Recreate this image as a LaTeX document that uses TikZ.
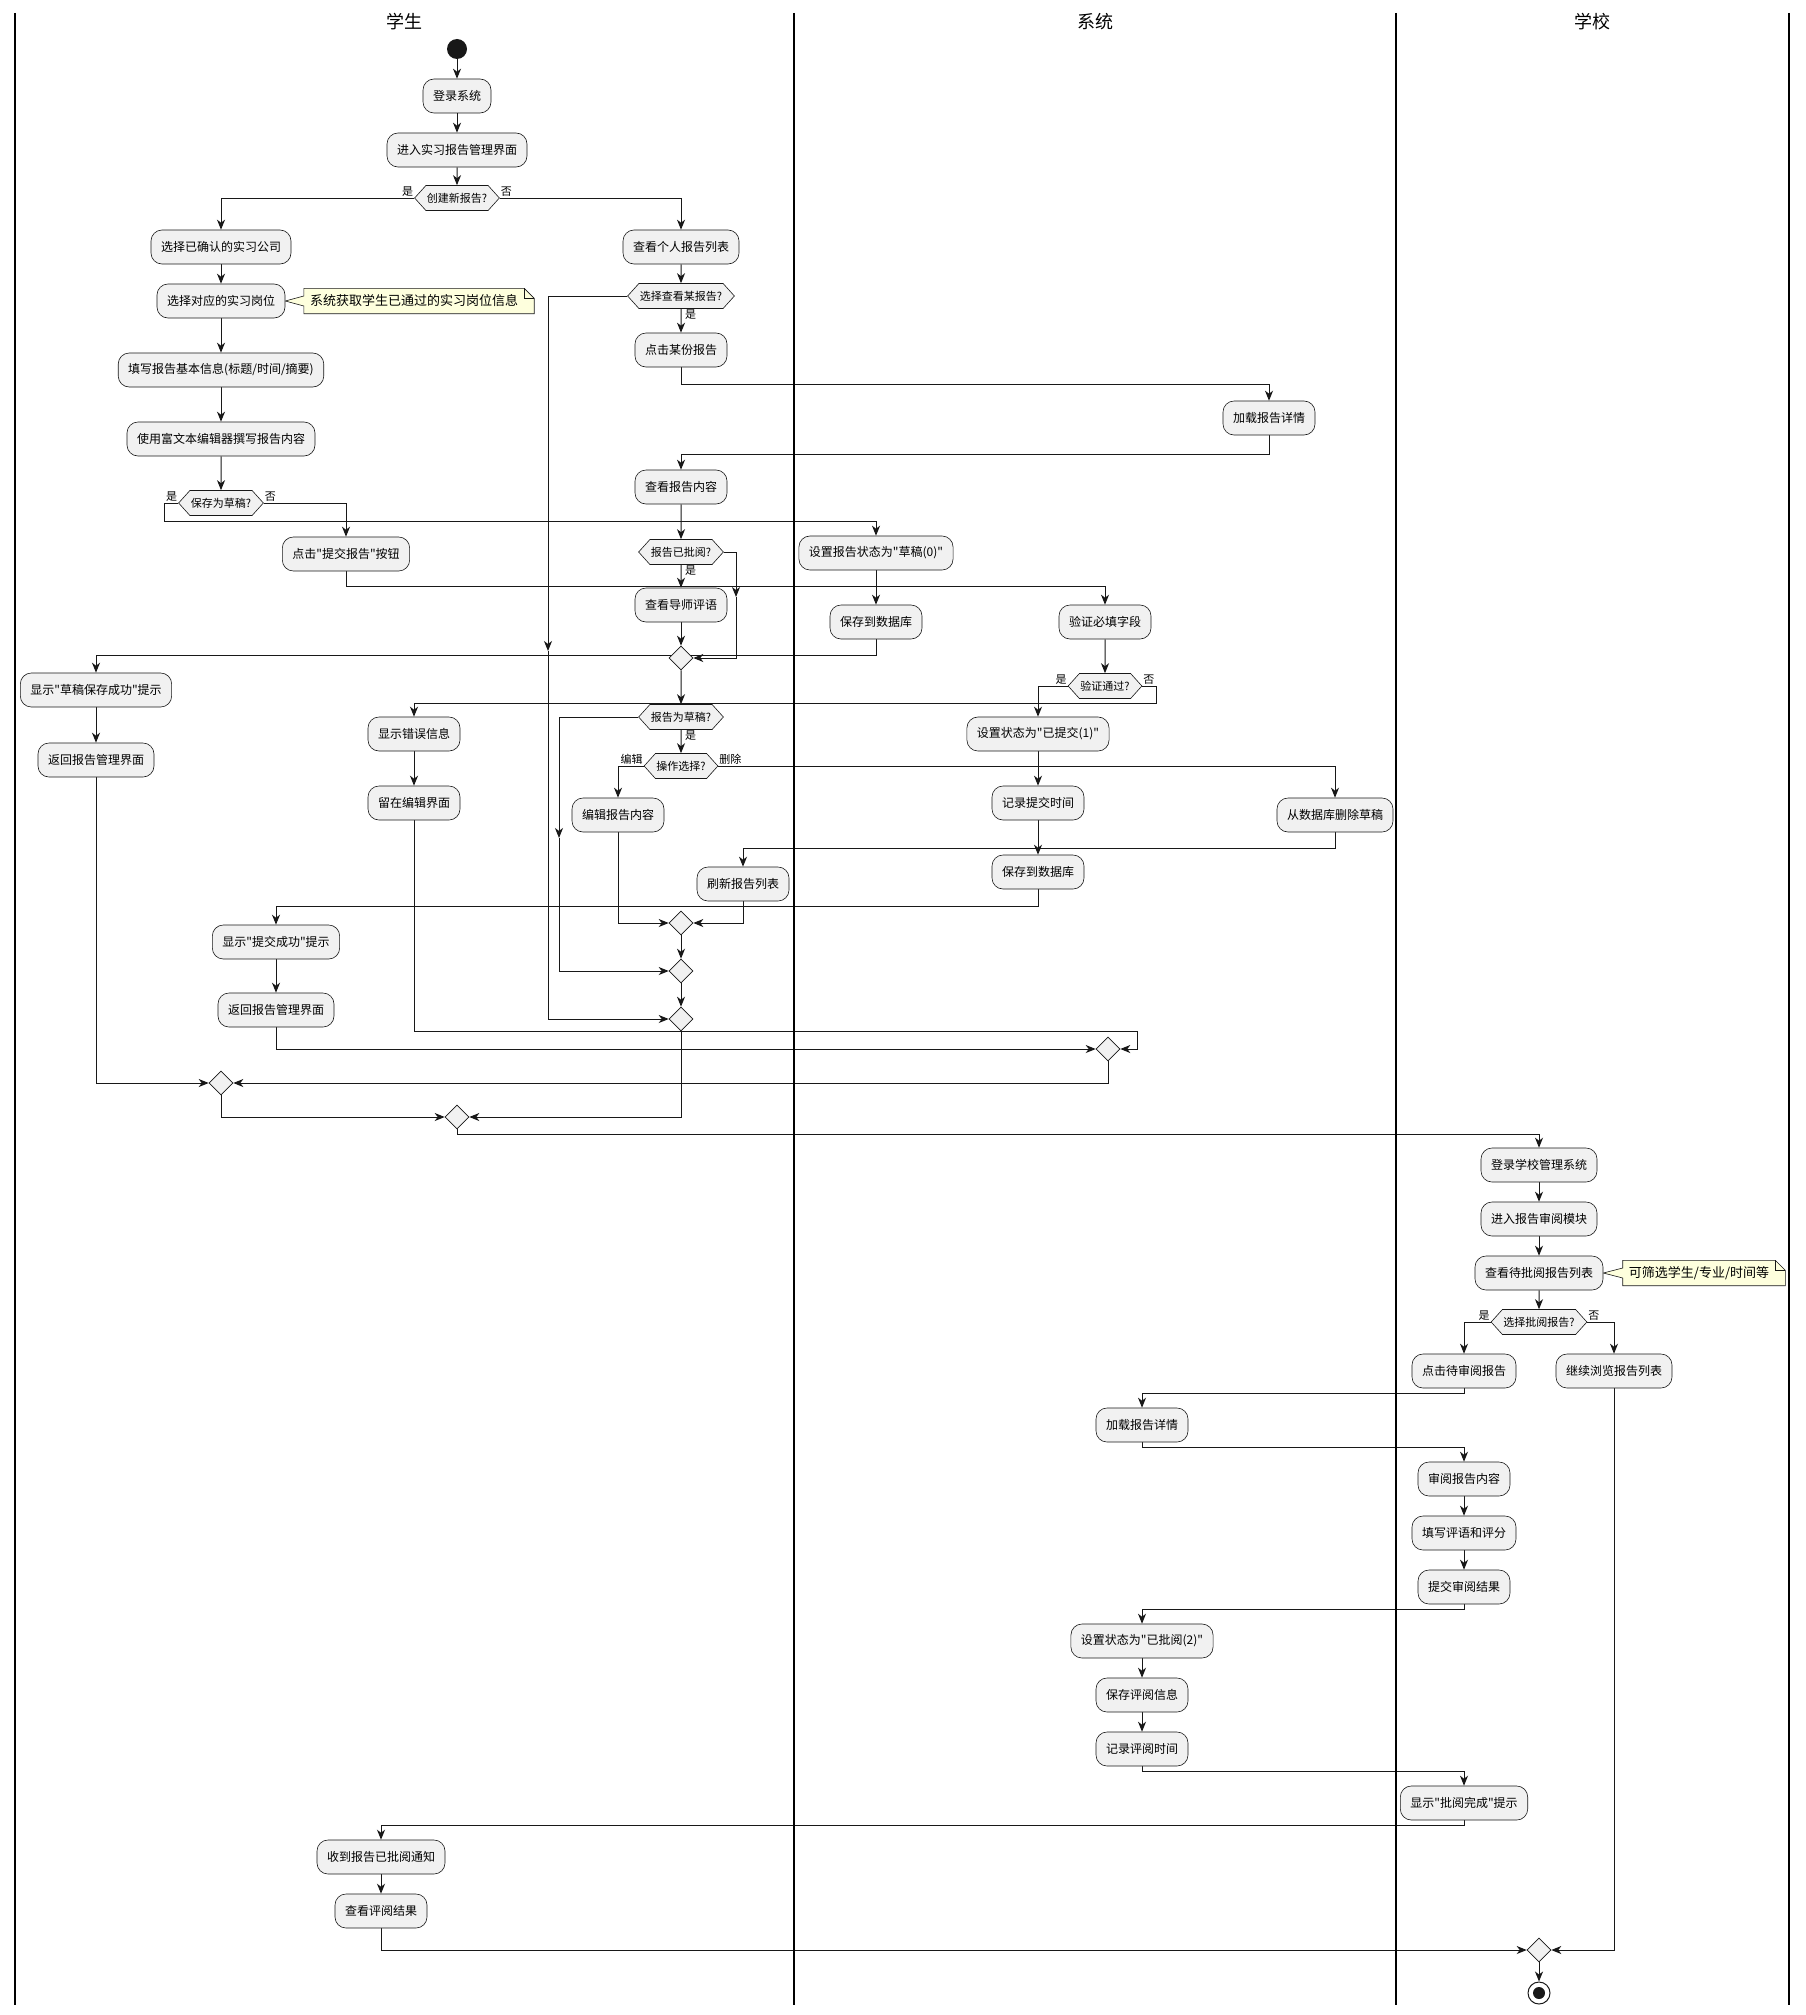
\documentclass[tikz,border=0pt]{standalone}
\usepackage{fontspec}
\setmainfont{Noto Sans CJK SC}[Ligatures=TeXOff]
\usepackage{tikz}
\usetikzlibrary{shapes.geometric,shapes.symbols,arrows.meta}
\usetikzlibrary{calc,backgrounds}
\usepackage{xcolor}
\definecolor{actfill}{HTML}{F1F1F1}
\definecolor{actline}{HTML}{181818}
\definecolor{notefill}{HTML}{FEFFDD}
\tikzstyle{swim}=[
  >={Stealth[length=10pt,width=8pt,inset=3pt]},x=1pt,y=-1pt,font=\fontsize{12}{14}\selectfont
]
\tikzstyle{act}=[
  draw=actline,fill=actfill,rounded corners=11pt,line width=0.6pt,minimum height=34pt,inner xsep=10pt,inner ysep=0pt
]
\tikzstyle{choice}=[
  draw=actline,fill=actfill,signal,signal to=west and east,signal pointer angle=96,line width=0.6pt,
  minimum height=25pt,inner xsep=1pt,inner ysep=0pt,font=\fontsize{11}{13}\selectfont
]
\tikzstyle{merge}=[
  draw=actline,fill=actfill,diamond,minimum width=24pt,minimum height=24pt,inner sep=0pt,line width=0.6pt
]
\tikzstyle{startdot}=[
  circle,fill=actline,minimum size=20pt,inner sep=0pt
]
\tikzstyle{enddot}=[
  circle,draw=actline,line width=1pt,fill=white,minimum size=22pt,inner sep=0pt
]
\tikzstyle{flow}=[
  ->,draw=actline,line width=1pt
]
\tikzstyle{lbl}=[
  inner sep=1pt,font=\fontsize{11}{13}\selectfont
]
\tikzstyle{note}=[
  inner xsep=6pt,inner ysep=0pt,minimum height=25pt,font=\fontsize{13}{15}\selectfont
]
\tikzstyle{noteline}=[
  draw=actline,fill=notefill,line width=0.6pt
]
\tikzstyle{lane}=[
  line width=1.2pt,draw=black
]
\tikzstyle{lanetitle}=[
  font=\fontsize{18}{21}\selectfont
]

\begin{document}
\begin{tikzpicture}[swim]
    \useasboundingbox (0,0) rectangle (1805,2015);
    \foreach \x in {15,794,1396,1789}
      \draw [lane] (\x,13) -- (\x,2005);
    \node (t1) at (404,22) [lanetitle] {学生};
    \node (t2) at (1095,22) [lanetitle] {系统};
    \node (t3) at (1592,22) [lanetitle] {学校};

    % student: start and create
    \node (init) at (457,49) [startdot] {};
    \node (a1) at (457,96) [act] {登录系统};
    \node (a2) at (457,150) [act] {进入实习报告管理界面};
    \node (d1) at (457,198) [choice] {创建新报告?};
    \node (a3) at (221,247) [act] {选择已确认的实习公司};
    \node (a4) at (221,301) [act] {选择对应的实习岗位};
    \node (n1) at (414,301) [note] {系统获取学生已通过的实习岗位信息};
    \node (a5) at (221,370) [act] {填写报告基本信息(标题/时间/摘要)};
    \node (a6) at (221,439) [act] {使用富文本编辑器撰写报告内容};
    \node (d2) at (221,503) [choice] {保存为草稿?};
    \node (a7) at (346,554) [act] {点击"提交报告"按钮};
    \node (a8) at (96,690) [act] {显示"草稿保存成功"提示};
    \node (a9) at (96,760) [act] {返回报告管理界面};
    \node (a10) at (414,734) [act] {显示错误信息};
    \node (a11) at (414,803) [act] {留在编辑界面};
    \node (a12) at (276,942) [act] {显示"提交成功"提示};
    \node (a13) at (276,1010) [act] {返回报告管理界面};

    % student: view list
    \node (b1) at (681,247) [act] {查看个人报告列表};
    \node (d3) at (681,296) [choice] {选择查看某报告?};
    \node (b2) at (681,350) [act] {点击某份报告};
    \node (b3) at (681,487) [act] {查看报告内容};
    \node (d4) at (681,552) [choice] {报告已批阅?};
    \node (b4) at (681,605) [act] {查看导师评语};
    \node (m1) at (681,658) [merge] {};
    \node (d5) at (681,717) [choice] {报告为草稿?};
    \node (d6) at (681,766) [choice] {操作选择?};
    \node (b5) at (618,815) [act] {编辑报告内容};
    \node (b6) at (743,884) [act] {刷新报告列表};
    \node (m2) at (681,923) [merge] {};
    \node (m3) at (681,971) [merge] {};
    \node (m4) at (681,1019) [merge] {};
    \node (m5) at (1108,1049) [merge] {};
    \node (m6) at (221,1083) [merge] {};
    \node (m7) at (457,1117) [merge] {};

    % system
    \node (s1) at (1269,418) [act] {加载报告详情};
    \node (s2) at (876,553) [act] {设置报告状态为"草稿(0)"};
    \node (s3) at (876,622) [act] {保存到数据库};
    \node (s4) at (1105,622) [act] {验证必填字段};
    \node (d7) at (1105,686) [choice] {验证通过?};
    \node (s5) at (1038,734) [act] {设置状态为"已提交(1)"};
    \node (s6) at (1038,803) [act] {记录提交时间};
    \node (s7) at (1038,872) [act] {保存到数据库};
    \node (s12) at (1335,815) [act] {从数据库删除草稿};

    % school review
    \node (c1) at (1539,1165) [act] {登录学校管理系统};
    \node (c2) at (1539,1219) [act] {进入报告审阅模块};
    \node (c3) at (1539,1273) [act] {查看待批阅报告列表};
    \node (n2) at (1699,1273) [note] {可筛选学生/专业/时间等};
    \node (d8) at (1539,1322) [choice] {选择批阅报告?};
    \node (c4) at (1464,1371) [act] {点击待审阅报告};
    \node (c5) at (1614,1371) [act] {继续浏览报告列表};
    \node (s8) at (1142,1425) [act] {加载报告详情};
    \node (c6) at (1464,1479) [act] {审阅报告内容};
    \node (c7) at (1464,1533) [act] {填写评语和评分};
    \node (c8) at (1464,1587) [act] {提交审阅结果};
    \node (s9) at (1142,1641) [act] {设置状态为"已批阅(2)"};
    \node (s10) at (1142,1695) [act] {保存评阅信息};
    \node (s11) at (1142,1749) [act] {记录评阅时间};
    \node (c9) at (1464,1803) [act] {显示"批阅完成"提示};
    \node (a14) at (381,1857) [act] {收到报告已批阅通知};
    \node (a15) at (381,1911) [act] {查看评阅结果};
    \node (m8) at (1539,1950) [merge] {};
    \node (stop) at (1539,1993) [enddot] {};
    \fill [actline] (stop) circle (6pt);

    % branch labels
    \node (l1) at (d1.west) [lbl,anchor=south east] {是};
    \node (l2) at (d1.east) [lbl,anchor=south west] {否};
    \node (l3) at (d2.west) [lbl,anchor=south east] {是};
    \node (l4) at (d2.east) [lbl,anchor=south west] {否};
    \node (l5) at ([xshift=3pt]d3.south) [lbl,anchor=north west] {是};
    \node (l6) at ([xshift=3pt]d4.south) [lbl,anchor=north west] {是};
    \node (l7) at ([xshift=3pt]d5.south) [lbl,anchor=north west] {是};
    \node (l8) at (d6.west) [lbl,anchor=south east] {编辑};
    \node (l9) at (d6.east) [lbl,anchor=south west] {删除};
    \node (l10) at (d7.west) [lbl,anchor=south east] {是};
    \node (l11) at (d7.east) [lbl,anchor=south west] {否};
    \node (l12) at (d8.west) [lbl,anchor=south east] {是};
    \node (l13) at (d8.east) [lbl,anchor=south west] {否};

    \coordinate (k1) at (548,651);
    \coordinate (k2) at (736,597);
    \coordinate (k3) at (559,838);
    \coordinate (k4) at (1137,1031);

    \begin{scope}[on background layer]
      % notes
      \draw [noteline] (n1.north west) -- (n1.north east) -- ([xshift=10pt,yshift=-10pt]n1.north east)
        -- ([xshift=10pt]n1.south east) -- (n1.south west) -- ([yshift=-5pt]n1.west)
        -- (a4.east) -- ([yshift=5pt]n1.west) -- cycle;
      \draw [noteline,fill=none] (n1.north east) -- ([yshift=-10pt]n1.north east) -- ([xshift=10pt,yshift=-10pt]n1.north east);
      \draw [noteline] (n2.north west) -- (n2.north east) -- ([xshift=10pt,yshift=-10pt]n2.north east)
        -- ([xshift=10pt]n2.south east) -- (n2.south west) -- ([yshift=-5pt]n2.west)
        -- (c3.east) -- ([yshift=5pt]n2.west) -- cycle;
      \draw [noteline,fill=none] (n2.north east) -- ([yshift=-10pt]n2.north east) -- ([xshift=10pt,yshift=-10pt]n2.north east);

      % student flow
      \draw [flow] (init) -- (a1);
      \draw [flow] (a1) -- (a2);
      \draw [flow] (a2) -- (d1);
      \draw [flow] (d1.west) -| (a3);
      \draw [flow] (d1.east) -| (b1);
      \draw [flow] (a3) -- (a4);
      \draw [flow] (a4) -- (a5);
      \draw [flow] (a5) -- (a6);
      \draw [flow] (a6) -- (d2);
      \draw [flow] (d2.west) -- ++(-14,0) -- ++(0,18) -| (s2);
      \draw [flow] (d2.east) -| (a7);
      \draw [flow] (a7.south) -- ++(0,15) -| (s4);
      \draw [flow] (b1) -- (d3);
      \draw [flow] (d3) -- (b2);
      \draw [flow] (d3.west) -| (k1);
      \draw [flow] (k1) |- (m4);
      \draw [flow] (b2.south) -- ++(0,17) -| (s1);
      \draw [flow] (s1.south) -- ++(0,19) -| (b3);
      \draw [flow] (b3) -- (d4);
      \draw [flow] (d4) -- (b4);
      \draw [flow] (d4.east) -| (k2);
      \draw [flow] (k2) |- (m1);
      \draw [flow] (b4) -- (m1);
      \draw [flow] (m1) -- (d5);
      \draw [flow] (d5) -- (d6);
      \draw [flow] (d5.west) -| (k3);
      \draw [flow] (k3) |- (m3);
      \draw [flow] (d6.west) -| (b5);
      \draw [flow] (d6.east) -| (s12);
      \draw [flow] (b5) |- (m2);
      \draw [flow] (b6) |- (m2);
      \draw [flow] (m2) -- (m3);
      \draw [flow] (m3) -- (m4);

      % system flow
      \draw [flow] (s2) -- (s3);
      \draw [flow] (s3.south) -- ++(0,16) -| (a8);
      \draw [flow] (s4) -- (d7);
      \draw [flow] (d7.west) -| (s5);
      \draw [flow] (d7.east) -- ++(14,0) -- ++(0,17) -| (a10);
      \draw [flow] (s5) -- (s6);
      \draw [flow] (s6) -- (s7);
      \draw [flow] (s12.south) -- ++(0,16) -| (b6);
      \draw [flow] (s7.south) -- ++(0,17) -| (a12);

      % back to student
      \draw [flow] (a8) -- (a9);
      \draw [flow] (a10) -- (a11);
      \draw [flow] (a12) -- (a13);
      \draw [flow] (a11) |- (k4) |- (m5);
      \draw [flow] (a13) |- (m5);
      \draw [flow] (m5) |- (m6);
      \draw [flow] (a9) |- (m6);
      \draw [flow] (m6) |- (m7);
      \draw [flow] (m4) |- (m7);

      % school flow
      \draw [flow] (m7.south) -- ++(0,5) -| (c1);
      \draw [flow] (c1) -- (c2);
      \draw [flow] (c2) -- (c3);
      \draw [flow] (c3) -- (d8);
      \draw [flow] (d8.west) -| (c4);
      \draw [flow] (d8.east) -| (c5);
      \draw [flow] (c4.south) -- ++(0,5) -| (s8);
      \draw [flow] (s8.south) -- ++(0,5) -| (c6);
      \draw [flow] (c6) -- (c7);
      \draw [flow] (c7) -- (c8);
      \draw [flow] (c8.south) -- ++(0,5) -| (s9);
      \draw [flow] (s9) -- (s10);
      \draw [flow] (s10) -- (s11);
      \draw [flow] (s11.south) -- ++(0,5) -| (c9);
      \draw [flow] (c9.south) -- ++(0,5) -| (a14);
      \draw [flow] (a14) -- (a15);
      \draw [flow] (a15) |- (m8);
      \draw [flow] (c5) |- (m8);
      \draw [flow] (m8) -- (stop);
    \end{scope}
\end{tikzpicture}
\end{document}
